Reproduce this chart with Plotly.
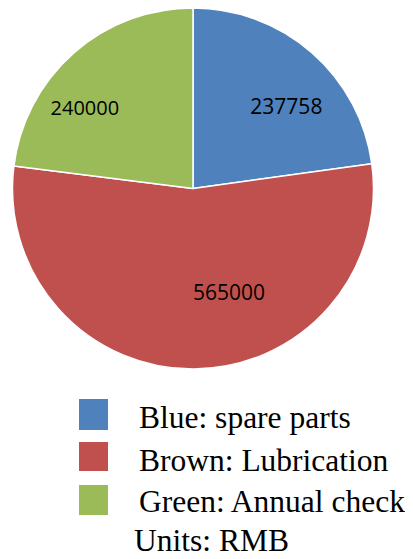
import plotly.graph_objects as go

categories = ["Blue: spare parts", "Brown: Lubrication", "Green: Annual check"]
values = [237758, 565000, 240000]
colors = ["#4F81BD", "#C0504D", "#9BBB59"]
units_note = "Units: RMB"

# page body has an 8px margin, so the figure is drawn 8px in from the top-left
OFF = 8
W, H = 413 - OFF, 559 - OFF

def px_x(x):
    return (x - OFF) / W

def px_y(y):
    return 1 - (y - OFF) / H

NB = "\u00a0"
text_templates = [
    NB * 8 + "%{value:d}",
    NB + "<br>" + NB * 13 + "%{value:d}",
    "%{value:d}" + NB * 14,
]

fig = go.Figure(go.Pie(
    labels=categories,
    values=values,
    sort=False,
    direction="clockwise",
    rotation=0,
    marker=dict(colors=colors, line=dict(color="#FFFFFF", width=1.5)),
    texttemplate=text_templates,
    textposition="inside",
    insidetextorientation="horizontal",
    textfont=dict(family="Open Sans", size=21, color="#000000"),
    domain=dict(x=[px_x(12), px_x(374)], y=[px_y(369), px_y(8)]),
    showlegend=False,
    hoverinfo="label+value",
))

# custom legend (large squares + serif text)
sq_top = [399, 442, 485]
sq_bot = [430, 471, 515]
txt_mid = [417, 460, 501]
shapes = []
annotations = []
for i, (lab, col) in enumerate(zip(categories, colors)):
    shapes.append(dict(type="rect", xref="paper", yref="paper",
                       x0=px_x(79), x1=px_x(108), y0=px_y(sq_bot[i]), y1=px_y(sq_top[i]),
                       fillcolor=col, line=dict(width=0)))
    annotations.append(dict(text=lab, xref="paper", yref="paper",
                            x=px_x(137), y=px_y(txt_mid[i]), xanchor="left", yanchor="middle",
                            showarrow=False,
                            font=dict(family="Liberation Serif", size=31.5, color="#000000")))
annotations.append(dict(text=units_note, xref="paper", yref="paper",
                        x=px_x(133), y=px_y(540), xanchor="left", yanchor="middle",
                        showarrow=False, borderpad=0,
                        font=dict(family="Liberation Serif", size=31.5, color="#000000")))

fig.update_layout(
    width=W, height=H,
    margin=dict(l=0, r=0, t=0, b=0),
    paper_bgcolor="#FFFFFF",
    plot_bgcolor="#FFFFFF",
    shapes=shapes,
    annotations=annotations,
)

fig.write_html("out.html")
